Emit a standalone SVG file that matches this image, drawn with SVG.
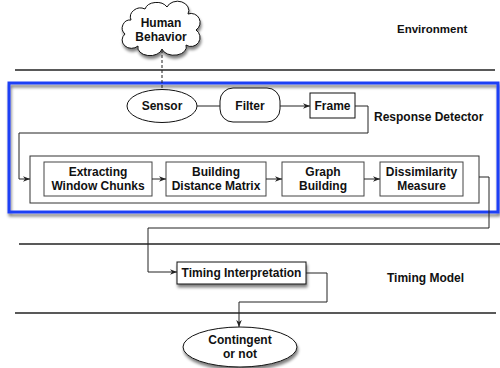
<svg xmlns="http://www.w3.org/2000/svg" width="500" height="368" viewBox="0 0 500 368">
<style>
text{font-family:"Liberation Sans",Arial,sans-serif;font-weight:bold;font-size:12px;fill:#111;text-anchor:middle}
.lbl{text-anchor:start}
.sep{stroke:#222;stroke-width:1.4;fill:none}
.shape{fill:#fff;stroke:#111;stroke-width:1}
.inner{fill:#fff;stroke:#444;stroke-width:1}
.conn{fill:none;stroke:#222;stroke-width:1}
</style>
<defs>
<marker id="arr" viewBox="0 0 10 10" refX="10" refY="5" markerWidth="7" markerHeight="7" orient="auto" markerUnits="userSpaceOnUse">
<path d="M0,1 L10,5 L0,9 L3,5 Z" fill="#222"/>
</marker>
<filter id="sh" x="-20%" y="-20%" width="150%" height="160%">
<feGaussianBlur in="SourceAlpha" stdDeviation="1.5"/>
<feOffset dx="1" dy="2.5" result="b"/>
<feComponentTransfer><feFuncA type="linear" slope="0.5"/></feComponentTransfer>
<feMerge><feMergeNode/><feMergeNode in="SourceGraphic"/></feMerge>
</filter>
</defs>

<line class="sep" x1="15" y1="70" x2="495" y2="70"/>
<line class="sep" x1="19" y1="244" x2="500" y2="244"/>
<line class="sep" x1="15" y1="313" x2="496" y2="313"/>

<text class="lbl" x="397" y="33" style="font-size:11.5px">Environment</text>
<text class="lbl" x="374" y="121">Response Detector</text>
<text class="lbl" x="387" y="282">Timing Model</text>

<g id="response-detector">
<rect x="9" y="83" width="489" height="129" fill="none" stroke="#1f3ff5" stroke-width="3" filter="url(#sh)"/>
</g>

<g id="human-behavior">
<path class="shape" filter="url(#sh)" d="M131 20 A10 9 0 0 1 145 9 A12 9 0 0 1 167 7 A11 9 0 0 1 188 14 A9 9 0 0 1 196 30 A9 9 0 0 1 186 45 A12 8 0 0 1 162 49 A12 8 0 0 1 138 46 A9 8 0 0 1 125 34 A8 8 0 0 1 131 20 Z"/>
<text x="161" y="27">Human</text>
<text x="161" y="41">Behavior</text>
</g>

<g id="sensor">
<ellipse class="shape" cx="162" cy="106" rx="35" ry="16.5"/>
<text x="162" y="110">Sensor</text>
</g>
<g id="filter">
<rect class="shape" x="220" y="88" width="60" height="34" rx="13" ry="13"/>
<text x="250" y="110">Filter</text>
</g>
<g id="frame">
<rect class="shape" x="310" y="93" width="45" height="25"/>
<text x="332.5" y="110">Frame</text>
</g>

<g id="pipeline">
<rect x="30" y="156" width="449" height="47" fill="#fff" stroke="#333" stroke-width="1"/>
</g>
<g id="extracting">
<rect class="inner" x="44" y="162" width="108" height="34"/>
<text x="98" y="176">Extracting</text>
<text x="98" y="190">Window Chunks</text>
</g>
<g id="building">
<rect class="inner" x="166" y="162" width="100" height="34"/>
<text x="216" y="176">Building</text>
<text x="216" y="190">Distance Matrix</text>
</g>
<g id="graph">
<rect class="inner" x="282" y="162" width="82" height="34"/>
<text x="323" y="176">Graph</text>
<text x="323" y="190">Building</text>
</g>
<g id="dissimilarity">
<rect class="inner" x="380" y="162" width="83" height="34"/>
<text x="421.5" y="176">Dissimilarity</text>
<text x="421.5" y="190">Measure</text>
</g>

<g id="timing-interpretation">
<rect class="shape" x="177" y="262" width="129" height="22" filter="url(#sh)"/>
<text x="241.5" y="277">Timing Interpretation</text>
</g>

<g id="contingent">
<ellipse class="shape" cx="240" cy="347" rx="57" ry="20" filter="url(#sh)"/>
<text x="240" y="344">Contingent</text>
<text x="240" y="358">or not</text>
</g>

<g id="connectors">
<line class="conn" x1="162" y1="50" x2="162" y2="89.5" stroke-dasharray="3,2"/>
<line class="conn" x1="197" y1="106" x2="220" y2="106"/>
<line class="conn" x1="280" y1="106" x2="310" y2="106" marker-end="url(#arr)"/>
<path class="conn" d="M355 106 H368 V133 H19 V179 H30" marker-end="url(#arr)"/>
<line class="conn" x1="152" y1="179" x2="166" y2="179" marker-end="url(#arr)"/>
<line class="conn" x1="266" y1="179" x2="282" y2="179" marker-end="url(#arr)"/>
<line class="conn" x1="364" y1="179" x2="380" y2="179" marker-end="url(#arr)"/>
<path class="conn" d="M479 177 H489 V228 H148 V272 H177" marker-end="url(#arr)"/>
<path class="conn" d="M306 273 H327 V302 H239 V327" marker-end="url(#arr)"/>
</g>
</svg>
